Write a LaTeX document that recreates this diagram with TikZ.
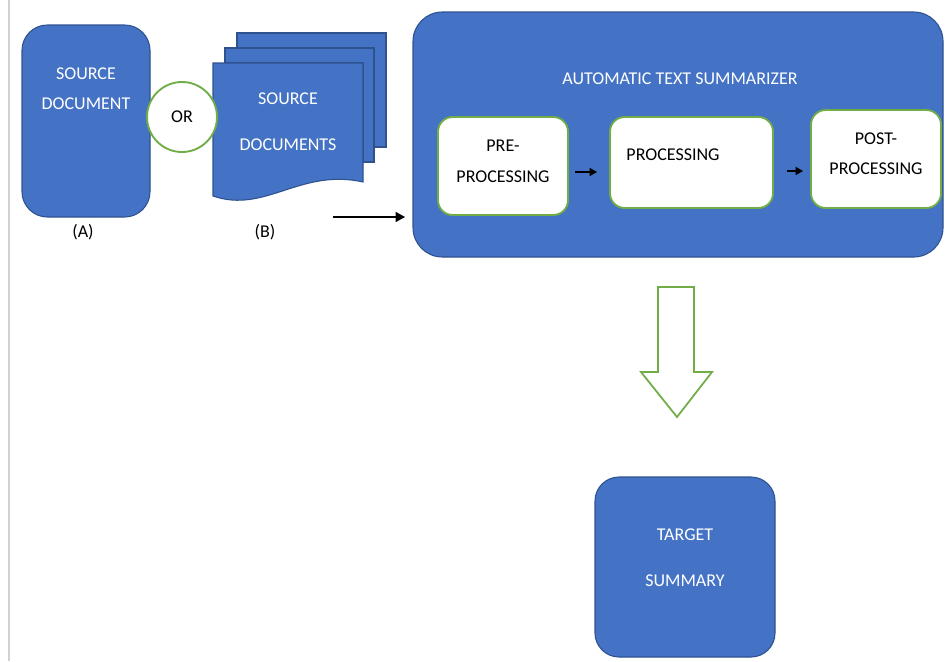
\documentclass[tikz,border=0pt]{standalone}
\usepackage{fontspec}
\setmainfont{Carlito}
\usetikzlibrary{arrows.meta}
\definecolor{boxblue}{HTML}{4472C4}
\definecolor{boxedge}{HTML}{2F528F}
\definecolor{okgreen}{HTML}{70AD47}
\tikzset{
  bluebox/.style={draw=boxedge, line width=0.8pt, fill=boxblue, inner sep=0pt, outer sep=0pt},
  whitebox/.style={draw=okgreen, line width=1.4pt, fill=white, inner sep=0pt, outer sep=0pt, rounded corners=11pt},
  wtext/.style={text=white, font=\fontsize{13.5}{15}\selectfont, inner sep=0pt},
  btext/.style={text=black, font=\fontsize{13.5}{15}\selectfont, inner sep=0pt},
  conn/.style={line width=0.9pt, -{Triangle[length=7pt,width=7.5pt]}},
  smallconn/.style={line width=0.9pt, -{Triangle[length=5.5pt,width=6pt]}},
}
\begin{document}
\begin{tikzpicture}[x=0.75pt,y=-0.75pt]
\useasboundingbox[fill=white] (0,0) rectangle (948,661);
% page edge
\draw[black!18, line width=1.6pt] (9,0) -- (9,661);

% (A) source document
\node[bluebox, rounded corners=19pt, minimum width={128*0.75pt}, minimum height={192*0.75pt}] (docA) at (86,121) {};
\node[wtext] (docAt1) at (86,74) {SOURCE};
\node[wtext] (docAt2) at (86,104) {DOCUMENT};
\node[btext] (labA) at (83,232) {(A)};

% (B) multi-document
\filldraw[fill=boxblue, draw=boxedge, line width=0.8pt] (237,33) -- (386,33) -- (386,147) -- (374,147) -- (374,48) -- (237,48) -- cycle;
\filldraw[fill=boxblue, draw=boxedge, line width=0.8pt] (225,48) -- (374,48) -- (374,162) -- (363,162) -- (363,63) -- (225,63) -- cycle;
\filldraw[fill=boxblue, draw=boxedge, line width=0.8pt] (213,63) -- (363,63) -- (363,182) .. controls (300,168) and (265,214) .. (213,196) -- cycle;
\coordinate (docB) at (288,130);
\node[wtext] (docBt1) at (288,99) {SOURCE};
\node[wtext] (docBt2) at (288,145) {DOCUMENTS};
\node[btext] (labB) at (265,232) {(B)};

% OR circle
\node[circle, draw=okgreen, line width=1.4pt, fill=white, minimum size={70*0.75pt}, inner sep=0pt] (or) at (182,117) {};
\node[btext] (ort) at (182,117) {OR};

% summarizer
\node[bluebox, rounded corners=22pt, minimum width={530*0.75pt}, minimum height={245*0.75pt}] (ats) at (678,134.5) {};
\node[wtext] (atst) at (680,79) {AUTOMATIC TEXT SUMMARIZER};

\node[whitebox, minimum width={130*0.75pt}, minimum height={98*0.75pt}] (pre) at (503,166) {};
\node[btext] (pret1) at (503,146) {PRE-};
\node[btext] (pret2) at (503,177) {PROCESSING};

\node[whitebox, minimum width={163*0.75pt}, minimum height={91*0.75pt}] (proc) at (691.5,162.5) {};
\node[btext] (proct) at (673,155) {PROCESSING};

\node[whitebox, minimum width={130*0.75pt}, minimum height={98*0.75pt}] (post) at (876,159) {};
\node[btext] (postt1) at (876,139) {POST-};
\node[btext] (postt2) at (876,169) {PROCESSING};

% connectors
\coordinate (inS) at (333,217);
\coordinate (inE) at (405,217);
\draw[conn] (inS) -- (inE);
\coordinate (a1s) at (575,172);
\coordinate (a1e) at (597,172);
\draw[smallconn] (a1s) -- (a1e);
\coordinate (a2s) at (787,171);
\coordinate (a2e) at (803,171);
\draw[smallconn] (a2s) -- (a2e);

% block arrow
\filldraw[fill=white, draw=okgreen, line width=1.3pt, line join=miter]
  (658,287) -- (694,287) -- (694,372) -- (712,372) -- (677,417) -- (641,372) -- (658,372) -- cycle;

% target summary
\node[bluebox, rounded corners=18pt, minimum width={180*0.75pt}, minimum height={180*0.75pt}] (target) at (685,567) {};
\node[wtext] (targt1) at (685,535) {TARGET};
\node[wtext] (targt2) at (685,581) {SUMMARY};
\end{tikzpicture}
\end{document}
